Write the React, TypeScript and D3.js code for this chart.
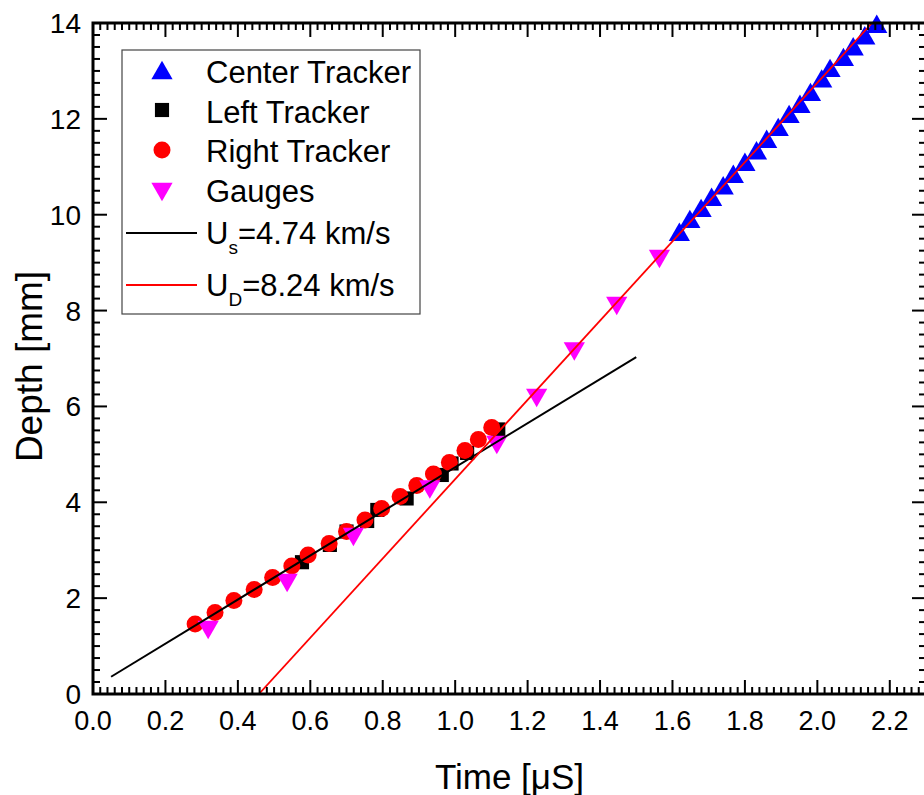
import React from 'react';
import * as d3 from 'd3';

// ---- data (time in µs, depth in mm) ----
const centerT = [1.619, 1.648, 1.679, 1.708, 1.740, 1.768, 1.800, 1.832, 1.860, 1.892, 1.922, 1.952, 1.981, 2.012, 2.035, 2.072, 2.099, 2.131, 2.164];
const centerD = [9.58, 9.85, 10.08, 10.31, 10.55, 10.79, 11.04, 11.28, 11.52, 11.77, 12.04, 12.25, 12.50, 12.78, 13.00, 13.23, 13.45, 13.68, 13.92];

const leftT = [0.577, 0.654, 0.700, 0.757, 0.785, 0.866, 0.963, 0.990, 1.033, 1.119];
const leftD = [2.75, 3.11, 3.39, 3.61, 3.84, 4.08, 4.57, 4.81, 5.03, 5.52];

const rightT = [0.282, 0.337, 0.389, 0.445, 0.496, 0.549, 0.594, 0.652, 0.700, 0.751, 0.797, 0.848, 0.894, 0.940, 0.984, 1.027, 1.064, 1.101];
const rightD = [1.46, 1.70, 1.95, 2.18, 2.43, 2.67, 2.90, 3.14, 3.39, 3.63, 3.87, 4.12, 4.35, 4.59, 4.83, 5.08, 5.31, 5.56];

const gaugeT = [0.318, 0.536, 0.719, 0.930, 1.115, 1.225, 1.329, 1.446, 1.564];
const gaugeD = [1.40, 2.38, 3.34, 4.33, 5.26, 6.24, 7.21, 8.16, 9.14];

const fitST = [0.05, 1.5];
const fitSD = [0.36, 7.03];
const fitDT = [0.458, 2.151];
const fitDD = [0, 14];

const xTickLabels = ['0.0', '0.2', '0.4', '0.6', '0.8', '1.0', '1.2', '1.4', '1.6', '1.8', '2.0', '2.2'];
const yTickLabels = ['0', '2', '4', '6', '8', '10', '12', '14'];

const legendLabels = ['Center Tracker', 'Left Tracker', 'Right Tracker', 'Gauges'];

const W = 924;
const H = 795;
const FONT = '"Liberation Sans", Arial, Helvetica, sans-serif';

export default function App() {
  const x = d3.scaleLinear().domain([0, 2.3]).range([93, 926]);
  const y = d3.scaleLinear().domain([0, 14]).range([694, 23]);
  const [x0, x1] = x.range();
  const [y0, y1] = y.range();

  const xMinor = d3.range(0, 231).map((i) => i / 100).filter((v, i) => i % 2 === 0 && i % 20 !== 0);
  const yMinor = d3.range(0, 57).map((i) => i * 0.25).filter((v, i) => i % 8 !== 0);
  const xMajor = xTickLabels.map(Number);
  const yMajor = yTickLabels.map(Number);

  const triUp = d3.symbol(d3.symbolTriangle, 195)();
  const square = d3.symbol(d3.symbolSquare, 200)();
  const line = d3.line<[number, number]>().x((d) => x(d[0])).y((d) => y(d[1]));

  const fitS: [number, number][] = fitST.map((t, i) => [t, fitSD[i]]);
  const fitD: [number, number][] = fitDT.map((t, i) => [t, fitDD[i]]);

  const MAJ = 14;
  const MIN = 7;

  return (
    <svg width={W} height={H} style={{ position: 'absolute', left: 0, top: 0, background: '#fff' }} fontFamily={FONT}>
      <defs>
        <clipPath id="plotClip">
          <rect x={x0} y={y1} width={x1 - x0} height={y0 - y1} />
        </clipPath>
      </defs>
      <rect x={0} y={0} width={W} height={H} fill="#fff" />

      {/* markers */}
      <g>
        {leftT.map((t, i) => (
          <path key={'l' + i} d={square as string} transform={`translate(${x(t)},${y(leftD[i])})`} fill="#000" />
        ))}
        {rightT.map((t, i) => (
          <circle key={'r' + i} cx={x(t)} cy={y(rightD[i])} r={8.5} fill="#ff0000" />
        ))}
        {gaugeT.map((t, i) => (
          <path key={'g' + i} d={triUp as string} transform={`translate(${x(t)},${y(gaugeD[i])}) rotate(180)`} fill="#ff00ff" />
        ))}
        {centerT.map((t, i) => (
          <path key={'c' + i} d={triUp as string} transform={`translate(${x(t)},${y(centerD[i])})`} fill="#0000ff" />
        ))}
      </g>

      {/* fit lines */}
      <g clipPath="url(#plotClip)">
        <path d={line(fitS) as string} stroke="#000" strokeWidth={2} fill="none" />
        <path d={line(fitD) as string} stroke="#ff0000" strokeWidth={1.8} fill="none" />
      </g>

      {/* ticks */}
      <g stroke="#000" strokeWidth={2}>
        {xMajor.map((v) => (
          <g key={'xM' + v}>
            <line x1={x(v)} x2={x(v)} y1={y0} y2={y0 - MAJ} />
            <line x1={x(v)} x2={x(v)} y1={y1} y2={y1 + MAJ} />
          </g>
        ))}
        {xMinor.map((v) => (
          <g key={'xm' + v}>
            <line x1={x(v)} x2={x(v)} y1={y0} y2={y0 - MIN} />
            <line x1={x(v)} x2={x(v)} y1={y1} y2={y1 + MIN} />
          </g>
        ))}
        {yMajor.map((v) => (
          <g key={'yM' + v}>
            <line x1={x0} x2={x0 + MAJ} y1={y(v)} y2={y(v)} />
            <line x1={x1} x2={x1 - MAJ} y1={y(v)} y2={y(v)} />
          </g>
        ))}
        {yMinor.map((v) => (
          <g key={'ym' + v}>
            <line x1={x0} x2={x0 + MIN} y1={y(v)} y2={y(v)} />
            <line x1={x1} x2={x1 - MIN} y1={y(v)} y2={y(v)} />
          </g>
        ))}
      </g>

      {/* frame */}
      <rect x={x0} y={y1} width={x1 - x0} height={y0 - y1} fill="none" stroke="#000" strokeWidth={3} />

      {/* tick labels */}
      <g fill="#000">
        {xTickLabels.map((s, i) => (
          <text key={'xl' + s} x={x(xMajor[i])} y={730} textAnchor="middle" fontSize={27}>{s}</text>
        ))}
        {yTickLabels.map((s, i) => (
          <text key={'yl' + s} x={81} y={y(yMajor[i]) + 10} textAnchor="end" fontSize={28}>{s}</text>
        ))}
      </g>

      {/* axis titles */}
      <text x={(x0 + x1) / 2} y={789} textAnchor="middle" fontSize={35} fill="#000">Time [μS]</text>
      <text transform={`translate(42,${(y0 + y1) / 2 + 8}) rotate(-90)`} textAnchor="middle" fontSize={37} fill="#000">Depth [mm]</text>

      {/* legend */}
      <g>
        <rect x={122} y={50} width={298} height={264} fill="#fff" stroke="#444" strokeWidth={1.2} />
        <path d={triUp as string} transform="translate(162,73)" fill="#0000ff" />
        <path d={square as string} transform="translate(162,110)" fill="#000" />
        <circle cx={162} cy={150} r={8.5} fill="#ff0000" />
        <path d={triUp as string} transform="translate(162,189) rotate(180)" fill="#ff00ff" />
        <line x1={126} x2={197} y1={233} y2={233} stroke="#000" strokeWidth={2} />
        <line x1={126} x2={197} y1={285} y2={285} stroke="#ff0000" strokeWidth={2} />
        <g fontSize={31} fill="#000">
          {legendLabels.map((s, i) => (
            <text key={s} x={206} y={83 + i * 39.5}>{s}</text>
          ))}
          <text x={206} y={244}>
            U<tspan fontSize={19} dy={10}>s</tspan><tspan dy={-10}>=4.74 km/s</tspan>
          </text>
          <text x={206} y={296}>
            U<tspan fontSize={19} dy={10}>D</tspan><tspan dy={-10}>=8.24 km/s</tspan>
          </text>
        </g>
      </g>
    </svg>
  );
}
